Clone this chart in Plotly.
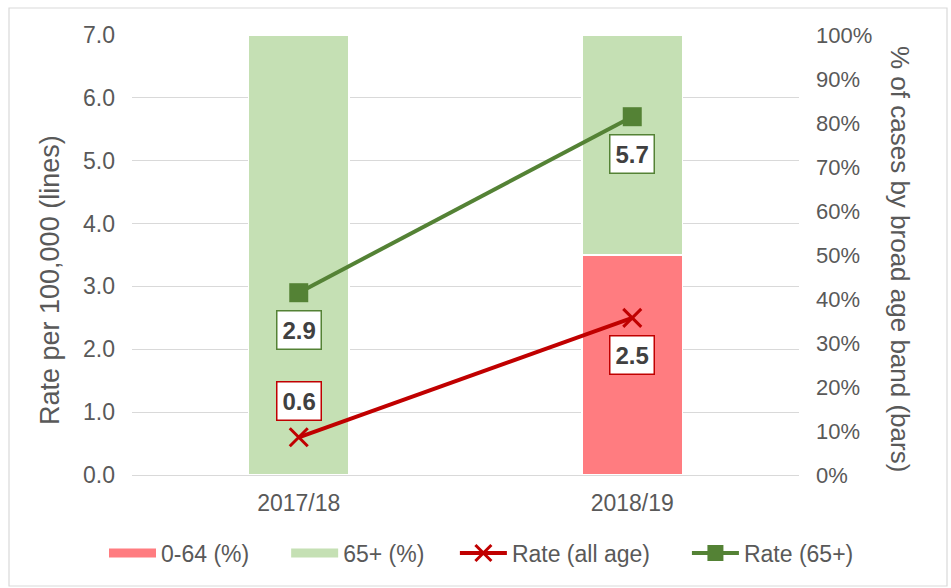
import plotly.graph_objects as go

# ---- data ----
years = ["2017/18", "2018/19"]
pct_0_64 = [0.0, 0.50]        # share of cases aged 0-64 (bars, right axis)
pct_65_plus = [1.00, 0.50]    # share of cases aged 65+ (bars, right axis)
rate_all_age = [0.6, 2.5]     # rate per 100,000, all ages (line, left axis)
rate_65_plus = [2.9, 5.7]     # rate per 100,000, 65+ (line, left axis)

rate_ticks = [0, 1, 2, 3, 4, 5, 6, 7]
pct_ticks = [0.0, 0.1, 0.2, 0.3, 0.4, 0.5, 0.6, 0.7, 0.8, 0.9, 1.0]

_PINK = "#FF7C80"
_LGREEN = "#C5E0B4"
_RED = "#C00000"
_GREEN = "#548235"
_GRID = "#D9D9D9"
_TXT = "#595959"
_FONT = "Liberation Sans, Arial, sans-serif"

W, H = 951, 588
L, R, T, B = 132, 152, 35, 113
PW, PH = W - L - R, H - T - B


def px_x(px):
    return (px - L) / PW


def px_y(py):
    return (H - B - py) / PH


fig = go.Figure()

# legend-only swatches so the bar entries look like Excel's wide bands
# (non-breaking spaces just widen the gaps between entries, as Excel spaces them)
for name, col, pad in [("0-64 (%)", _PINK, 5), ("65+ (%)", _LGREEN, 4)]:
    fig.add_trace(go.Scatter(x=[None], y=[None], mode="lines", name=name + "\u00a0" * pad,
                             line={"color": col, "width": 9}, yaxis="y"))

fig.add_trace(go.Bar(x=years, y=pct_0_64, name="0-64 (%)", marker_color=_PINK,
                     marker_line={"color": "white", "width": 1.5},
                     showlegend=False, yaxis="y", hoverinfo="skip"))
fig.add_trace(go.Bar(x=years, y=pct_65_plus, name="65+ (%)", marker_color=_LGREEN,
                     marker_line={"color": "white", "width": 1.5},
                     showlegend=False, yaxis="y", hoverinfo="skip"))

fig.add_trace(go.Scatter(x=years, y=rate_all_age, name="Rate (all age)" + "\u00a0" * 5,
                         mode="lines+markers",
                         line={"color": _RED, "width": 4},
                         marker={"symbol": "x-thin", "size": 18,
                                 "line": {"color": _RED, "width": 3}},
                         yaxis="y2"))
fig.add_trace(go.Scatter(x=years, y=rate_65_plus, name="Rate (65+)", mode="lines+markers",
                         line={"color": _GREEN, "width": 4},
                         marker={"symbol": "square", "size": 19, "color": _GREEN},
                         yaxis="y2"))

# boxed data labels on the lines
for series, col, shifts in [(rate_65_plus, _GREEN, [-37, -37]),
                            (rate_all_age, _RED, [36, -37])]:
    for x, v, s in zip(years, series, shifts):
        fig.add_annotation(x=x, y=v, xref="x", yref="y2", text=f"{v:.1f}",
                           showarrow=False, yshift=s,
                           font={"family": _FONT, "size": 24, "color": "#404040",
                                 "weight": "bold"},
                           bgcolor="white", bordercolor=col, borderwidth=1.5,
                           borderpad=5)

# axis titles (right one reads top-to-bottom like Excel)
fig.add_annotation(text="Rate per 100,000 (lines)", xref="paper", yref="paper",
                   x=px_x(50), y=px_y(280), textangle=-90, showarrow=False,
                   xanchor="center", yanchor="middle",
                   font={"family": _FONT, "size": 27, "color": _TXT})
fig.add_annotation(text="% of cases by broad age band (bars)", xref="paper", yref="paper",
                   x=px_x(900), y=px_y(259), textangle=90, showarrow=False,
                   xanchor="center", yanchor="middle",
                   font={"family": _FONT, "size": 26, "color": _TXT})

# thin chart-area border
fig.add_shape(type="rect", xref="paper", yref="paper",
              x0=px_x(9), x1=px_x(947), y0=px_y(586), y1=px_y(8),
              line={"color": _GRID, "width": 1.2})

fig.update_layout(
    width=W, height=H,
    margin={"l": L, "r": R, "t": T, "b": B, "autoexpand": False},
    barmode="stack", bargap=0.7,
    plot_bgcolor="white", paper_bgcolor="white",
    font={"family": _FONT, "size": 23, "color": _TXT},
    xaxis={"type": "category", "showgrid": False, "showline": True, "linecolor": _GRID,
           "ticks": "", "ticklabelstandoff": 7, "tickfont": {"size": 23}},
    yaxis={"side": "right", "range": [0, 1], "tickvals": pct_ticks,
           "tickformat": ".0%", "showgrid": False, "zeroline": False,
           "ticklabelstandoff": 16, "tickfont": {"size": 22}},
    yaxis2={"side": "left", "overlaying": "y", "range": [0, 7], "tickvals": rate_ticks,
            "tickformat": ".1f", "showgrid": True, "gridcolor": _GRID, "gridwidth": 1,
            "zeroline": False, "ticklabelstandoff": 16, "tickfont": {"size": 23}},
    legend={"orientation": "h", "x": px_x(104), "xanchor": "left",
            "y": px_y(553), "yanchor": "middle", "itemwidth": 47,
            "font": {"size": 23, "color": _TXT}, "traceorder": "normal"},
)

fig.write_html("out.html", config={"displayModeBar": False},
               post_script="document.body.style.margin='0';")
